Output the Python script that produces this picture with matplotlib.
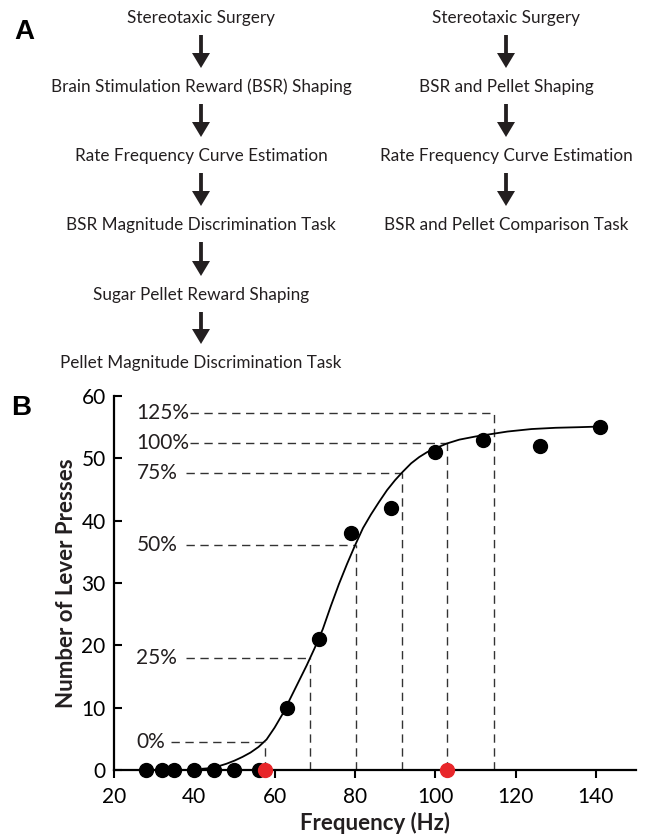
import numpy as np
import matplotlib.pyplot as plt

plt.rcParams['font.family'] = ['Lato', 'DejaVu Sans']

# Panel A - training steps
left_steps = ['Stereotaxic Surgery',
              'Brain Stimulation Reward (BSR) Shaping',
              'Rate Frequency Curve Estimation',
              'BSR Magnitude Discrimination Task',
              'Sugar Pellet Reward Shaping',
              'Pellet Magnitude Discrimination Task']
right_steps = ['Stereotaxic Surgery',
               'BSR and Pellet Shaping',
               'Rate Frequency Curve Estimation',
               'BSR and Pellet Comparison Task']

# Panel B - rate frequency data
freq = [28, 32, 35, 40, 45, 50, 56, 63, 71, 79, 89, 100, 112, 126, 141]
presses = [0, 0, 0, 0, 0, 0, 0, 10, 21, 38, 42, 51, 53, 52, 55]
red_freq = [57.5, 103]
red_presses = [0, 0]

# fitted curve
curve_freq = [42, 44, 46, 48, 50, 52, 54, 56, 58, 60, 62, 64, 66, 68, 70, 72, 74,
              76, 78, 80, 82, 84, 86, 88, 90, 92, 94, 96, 98, 100, 103, 106, 110,
              114, 118, 124, 130, 136, 141]
curve_presses = [0.2, 0.3, 0.6, 1.0, 1.5, 2.1, 2.8, 3.7, 4.9, 6.8, 9.0, 11.6, 14.2,
                 16.8, 19.6, 22.6, 26.3, 29.8, 33.0, 36.0, 38.8, 41.0, 43.0, 44.9,
                 46.5, 47.9, 49.2, 50.2, 51.0, 51.6, 52.4, 53.0, 53.5, 53.9, 54.3,
                 54.7, 54.9, 55.0, 55.1]

# percentage markers
pct_labels = ['0%', '25%', '50%', '75%', '100%', '125%']
pct_freq = [57.6, 68.9, 80.3, 91.7, 103.0, 114.6]
pct_level = [4.5, 17.9, 36.1, 47.6, 52.4, 57.3]
pct_line_start = [34.1, 38.0, 38.0, 38.0, 39.0, 39.0]

W, H = 649, 836
fig = plt.figure(figsize=(W / 100, H / 100), dpi=100)

# ---- panel A (pixel coords overlay) ----
axA = fig.add_axes([0, 0, 1, 1])
axA.set_xlim(0, W)
axA.set_ylim(H, 0)
axA.axis('off')

row_y = [18, 87, 156, 225, 295, 363]
dark = '#231f20'
for col_x, steps in [(201, left_steps), (506, right_steps)]:
    for i, s in enumerate(steps):
        axA.text(col_x, row_y[i], s, ha='center', va='center', fontsize=12.3,
                 color=dark)
        if i < len(steps) - 1:
            y0 = row_y[i] + 17
            y1 = row_y[i + 1] - 19
            axA.arrow(col_x, y0, 0, y1 - y0, width=3.8, head_width=18,
                      head_length=15, length_includes_head=True, color=dark, lw=0)

axA.text(14, 32, 'A', fontsize=20, fontweight='bold', family='Liberation Sans',
         va='center', ha='left')
axA.text(11, 408, 'B', fontsize=20, fontweight='bold', family='Liberation Sans',
         va='center', ha='left')

# ---- panel B ----
ax = fig.add_axes([114 / W, 1 - 770 / H, (636 - 114) / W, (770 - 396) / H])
ax.set_xlim(20, 150)
ax.set_ylim(0, 60)

for lab, fx, lv, xs in zip(pct_labels, pct_freq, pct_level, pct_line_start):
    ax.plot([xs, fx], [lv, lv], color='#333333', lw=1.0, dashes=(6, 4))
    ax.plot([fx, fx], [0, lv], color='#333333', lw=1.0, dashes=(6, 4))
    ax.text(25.6, lv, lab, ha='left', va='center', fontsize=15, color=dark)

ax.plot(curve_freq, curve_presses, color='black', lw=1.3, zorder=3)
ax.plot(freq, presses, 'o', color='black', ms=10, clip_on=False, zorder=4)
ax.plot(red_freq, red_presses, 'o', color='#e8262a', ms=10, clip_on=False, zorder=5)

ax.spines['top'].set_visible(False)
ax.spines['right'].set_visible(False)
ax.spines['left'].set_linewidth(1.6)
ax.spines['bottom'].set_linewidth(1.6)
ax.set_xticks([20, 40, 60, 80, 100, 120, 140])
ax.set_yticks([0, 10, 20, 30, 40, 50, 60])
ax.tick_params(axis='x', direction='out', length=6, width=1.5, labelsize=15, pad=6)
ax.tick_params(axis='y', direction='in', length=6, width=1.5, labelsize=15, pad=6)
ax.set_xlabel('Frequency (Hz)', fontsize=16, fontweight='bold', labelpad=4,
              color=dark)
ax.set_ylabel('Number of Lever Presses', fontsize=16, fontweight='bold', labelpad=3,
              color=dark)

fig.savefig('out.png', dpi=100)
